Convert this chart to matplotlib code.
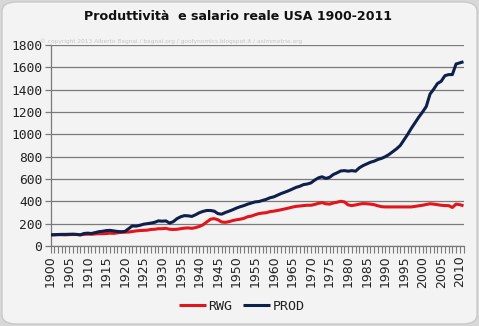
import matplotlib
matplotlib.use("Agg")
import matplotlib.pyplot as plt
from matplotlib.patches import FancyBboxPatch

years = list(range(1900, 2012))

prod = [100, 101, 103, 104, 104, 105, 106, 104, 100, 112,
        115, 112, 120, 128, 132, 138, 140, 135, 130, 128,
        130, 155, 180, 178, 185, 195, 200, 205, 212, 225,
        222, 225, 205, 218, 245, 262, 272, 270, 265, 280,
        298, 310, 318, 318, 312, 290, 285, 300, 312, 325,
        340, 352, 362, 375, 385, 395, 398, 408, 418, 432,
        440, 455, 470, 482, 495, 510, 525, 535, 550, 555,
        565, 590, 610, 620, 605, 615, 640, 655, 672, 675,
        670, 675, 670, 700, 720, 735, 750, 760, 775, 785,
        800, 820, 845, 870, 900, 950, 1000, 1055, 1105, 1155,
        1200, 1250, 1360, 1405, 1455, 1475, 1525, 1535, 1535, 1630,
        1640, 1650]

rwg = [100, 100, 101, 101, 100, 102, 103, 103, 100, 104,
       106, 105, 108, 110, 110, 112, 115, 113, 118, 122,
       124, 125, 130, 135, 138, 140, 142, 148, 150, 155,
       155, 158, 150, 148, 150, 155, 160, 162, 158, 165,
       175, 190, 215, 240, 245, 235, 215, 212, 218, 228,
       235, 240, 248, 262, 268, 280, 290, 295, 298, 308,
       312, 318, 325, 332, 340, 348, 355, 358, 362, 365,
       365, 372, 382, 388, 378, 375, 385, 392, 400, 395,
       368, 362, 368, 375, 380, 378, 375, 370, 360, 352,
       350, 350, 350, 350, 350, 350, 350, 350, 355, 360,
       365, 372, 378, 375, 370, 365, 362, 362, 345, 375,
       370, 360]

yticks = list(range(0, 1801, 200))
xticks = list(range(1900, 2011, 5))

title = "Produttività  e salario reale USA 1900-2011"
copyright_text = "© copyright 2013 Alberto Bagnai / bagnai.org / goofynomics.blogspot.it / asimmetrie.org"

plt.rcParams["xtick.labelsize"] = 9
plt.rcParams["ytick.labelsize"] = 9.3
plt.rcParams["xtick.color"] = "#7a7a7a"
plt.rcParams["ytick.color"] = "#7a7a7a"
plt.rcParams["xtick.labelcolor"] = "#222222"
plt.rcParams["ytick.labelcolor"] = "#222222"

W, H = 479, 326
fig = plt.figure(figsize=(W / 100, H / 100), dpi=100)
fig.patch.set_facecolor("#d8d8d8")
frame = FancyBboxPatch((0.004, 0.006), 0.992, 0.988,
                       boxstyle="round,pad=0,rounding_size=0.03",
                       transform=fig.transFigure, facecolor="#f3f3f3",
                       edgecolor="#c8c8c8", linewidth=1.0, zorder=-10)
fig.patches.append(frame)

ax = fig.add_axes([50.5 / W, 1 - 246 / H, (463.5 - 50.5) / W, (246 - 45) / H])
ax.set_facecolor("none")
ax.set_zorder(5)

ax.plot(years, rwg, color="#e3151a", lw=2.2, label="RWG", solid_capstyle="butt", zorder=3)
ax.plot(years, prod, color="#0d1f4a", lw=2.2, label="PROD", solid_capstyle="butt", zorder=4)

ax.set_xlim(1900, 2011)
ax.set_ylim(0, 1800)
ax.set_yticks(yticks)
ax.set_xticks(xticks)
ax.set_xticks(years, minor=True)
ax.grid(axis="y", color="#7a7a7a", lw=0.9)
ax.set_axisbelow(True)
for s in ["top", "right"]:
    ax.spines[s].set_visible(False)
for s in ["left", "bottom"]:
    ax.spines[s].set_color("#7a7a7a")
    ax.spines[s].set_linewidth(0.9)

ax.tick_params(axis="y", length=4, width=0.9, pad=2)
ax.tick_params(axis="x", which="both", length=5, width=0.8, pad=2)
ax.tick_params(axis="x", labelrotation=90)

mono = "DejaVu Sans Mono"
for lab in ax.get_yticklabels():
    lab.set_fontfamily(mono)

fig.text(0.497, 1 - 17 / H, title, ha="center", va="center",
         fontsize=9.1, fontweight="bold", color="#111111")
fig.text(40 / W, 1 - 41 / H, copyright_text, ha="left", va="center",
         fontsize=4.2, color="#c6c6c6")

leg = fig.legend(loc="center", bbox_to_anchor=(0.505, 1 - 306 / H), ncol=2,
                 frameon=False, prop={"family": mono, "size": 9.6},
                 handlelength=2.0, handletextpad=0.2, columnspacing=0.8)
for t in leg.get_texts():
    t.set_color("#222222")

fig.savefig("out.png", dpi=100, facecolor=fig.get_facecolor())
